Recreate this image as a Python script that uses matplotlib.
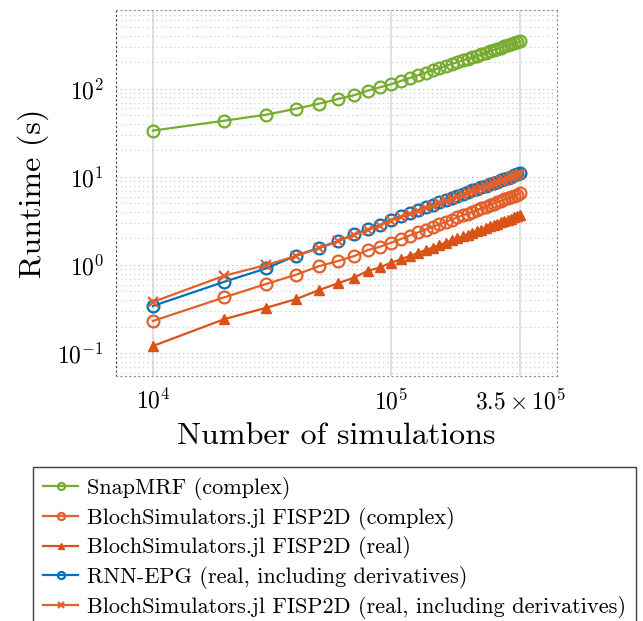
import numpy as np
import matplotlib
matplotlib.use("Agg")
import matplotlib.pyplot as plt

plt.rcParams['font.family'] = ['cmr10', 'DejaVu Serif']
plt.rcParams['mathtext.fontset'] = 'cm'
plt.rcParams['axes.unicode_minus'] = False
plt.rcParams['axes.formatter.use_mathtext'] = True

# number of simulations: 10k .. 350k
n_sims = np.arange(1, 36) * 10000

snapmrf_complex = [33.6, 43.6, 51.0, 59.7, 68.1, 76.9, 84.7, 95.7, 104.5, 113,
                   123, 133, 143, 153, 163, 173, 182, 192, 201, 211,
                   220, 230, 239, 248, 258, 267, 276, 285, 295, 304,
                   313, 322, 331, 340, 348]
bloch_complex = [0.231, 0.43, 0.61, 0.776, 0.97, 1.11, 1.26, 1.48, 1.61, 1.79,
                 1.97, 2.16, 2.35, 2.53, 2.72, 2.90, 3.09, 3.28, 3.47, 3.66,
                 3.84, 4.03, 4.22, 4.41, 4.60, 4.79, 4.98, 5.17, 5.36, 5.55,
                 5.74, 5.93, 6.12, 6.31, 6.50]
bloch_real = [0.12, 0.243, 0.327, 0.41, 0.52, 0.62, 0.72, 0.855, 0.94, 1.06,
              1.16, 1.27, 1.37, 1.48, 1.58, 1.69, 1.79, 1.90, 2.00, 2.11,
              2.21, 2.32, 2.42, 2.53, 2.63, 2.74, 2.84, 2.94, 3.05, 3.15,
              3.26, 3.36, 3.47, 3.57, 3.68]
rnn_epg_deriv = [0.342, 0.646, 0.917, 1.28, 1.57, 1.87, 2.23, 2.54, 2.85, 3.25,
                 3.57, 3.88, 4.20, 4.51, 4.83, 5.14, 5.45, 5.77, 6.08, 6.39,
                 6.71, 7.02, 7.33, 7.64, 7.95, 8.26, 8.57, 8.88, 9.19, 9.50,
                 9.80, 10.11, 10.42, 10.73, 11.04]
bloch_real_deriv = [0.38, 0.757, 1.0, 1.27, 1.55, 1.85, 2.20, 2.50, 2.80, 3.20,
                    3.50, 3.81, 4.12, 4.42, 4.73, 5.04, 5.34, 5.65, 5.96, 6.26,
                    6.57, 6.88, 7.18, 7.49, 7.79, 8.09, 8.40, 8.70, 9.01, 9.31,
                    9.60, 9.91, 10.21, 10.52, 10.82]

labels = ['SnapMRF (complex)',
          'BlochSimulators.jl FISP2D (complex)',
          'BlochSimulators.jl FISP2D (real)',
          'RNN-EPG (real, including derivatives)',
          'BlochSimulators.jl FISP2D (real, including derivatives)']

green = '#77AC30'
orange = '#D95319'
orange2 = '#E4602A'
blue = '#0072BD'

fig = plt.figure(figsize=(6.43, 6.21), dpi=100)
ax = fig.add_axes([0.181, 0.3945, 0.685, 0.5895])

ax.plot(n_sims, snapmrf_complex, '-o', color=green, mfc='none', ms=8.5, mew=1.6, lw=1.6, label=labels[0])
ax.plot(n_sims, bloch_complex, '-o', color=orange2, mfc='none', ms=8.5, mew=1.6, lw=1.6, label=labels[1])
ax.plot(n_sims, bloch_real, '-^', color=orange, ms=7.5, mew=1.0, lw=1.6, label=labels[2])
ax.plot(n_sims, rnn_epg_deriv, '-o', color=blue, mfc='none', ms=8.5, mew=1.6, lw=1.6, label=labels[3])
ax.plot(n_sims, bloch_real_deriv, '-x', color=orange2, ms=6.5, mew=1.6, lw=1.6, label=labels[4])

ax.set_xscale('log')
ax.set_yscale('log')
ax.set_xlim(7030, 4.98e5)
ax.set_ylim(0.0548, 790)

ax.set_xticks([1e4, 1e5, 3.5e5])
ax.set_xticklabels([r'$10^{4}$', r'$10^{5}$', r'$3.5\times10^{5}$'])
ax.xaxis.set_minor_locator(matplotlib.ticker.NullLocator())
ax.set_yticks([0.1, 1, 10, 100])
ax.set_yticklabels([r'$10^{-1}$', r'$10^{0}$', r'$10^{1}$', r'$10^{2}$'])
ax.yaxis.set_minor_locator(matplotlib.ticker.LogLocator(base=10, subs=np.arange(2, 10)))
ax.yaxis.set_minor_formatter(matplotlib.ticker.NullFormatter())
ax.tick_params(which='both', length=0, labelsize=17, pad=9)

ax.grid(True, axis='x', which='major', color='#d9d9d9', lw=1.2, ls='-')
ax.grid(True, axis='y', which='major', color='#b0b0b0', lw=0.8, ls=(0, (1, 3)))
ax.grid(True, axis='y', which='minor', color='#c8c8c8', lw=0.8, ls=(0, (1, 3)))
ax.set_axisbelow(True)

for side in ['top', 'right', 'bottom']:
    ax.spines[side].set_linestyle((0, (1, 3)))
    ax.spines[side].set_color('#909090')
    ax.spines[side].set_linewidth(0.8)
ax.spines['left'].set_linestyle((0, (1, 3)))
ax.spines['left'].set_color('#404040')
ax.spines['left'].set_linewidth(0.8)

ax.set_xlabel('Number of simulations', fontsize=23, labelpad=6)
ax.set_ylabel('Runtime (s)', fontsize=23, labelpad=6)

leg = fig.legend(loc='upper left', bbox_to_anchor=(0.051, 0.248), fontsize=16,
                 fancybox=False, framealpha=1, edgecolor='#404040',
                 handlelength=1.6, handletextpad=0.4, markerscale=0.6,
                 borderpad=0.45, labelspacing=0.3, borderaxespad=0)
leg.get_frame().set_linewidth(1.0)

fig.savefig('out.png', dpi=100)
